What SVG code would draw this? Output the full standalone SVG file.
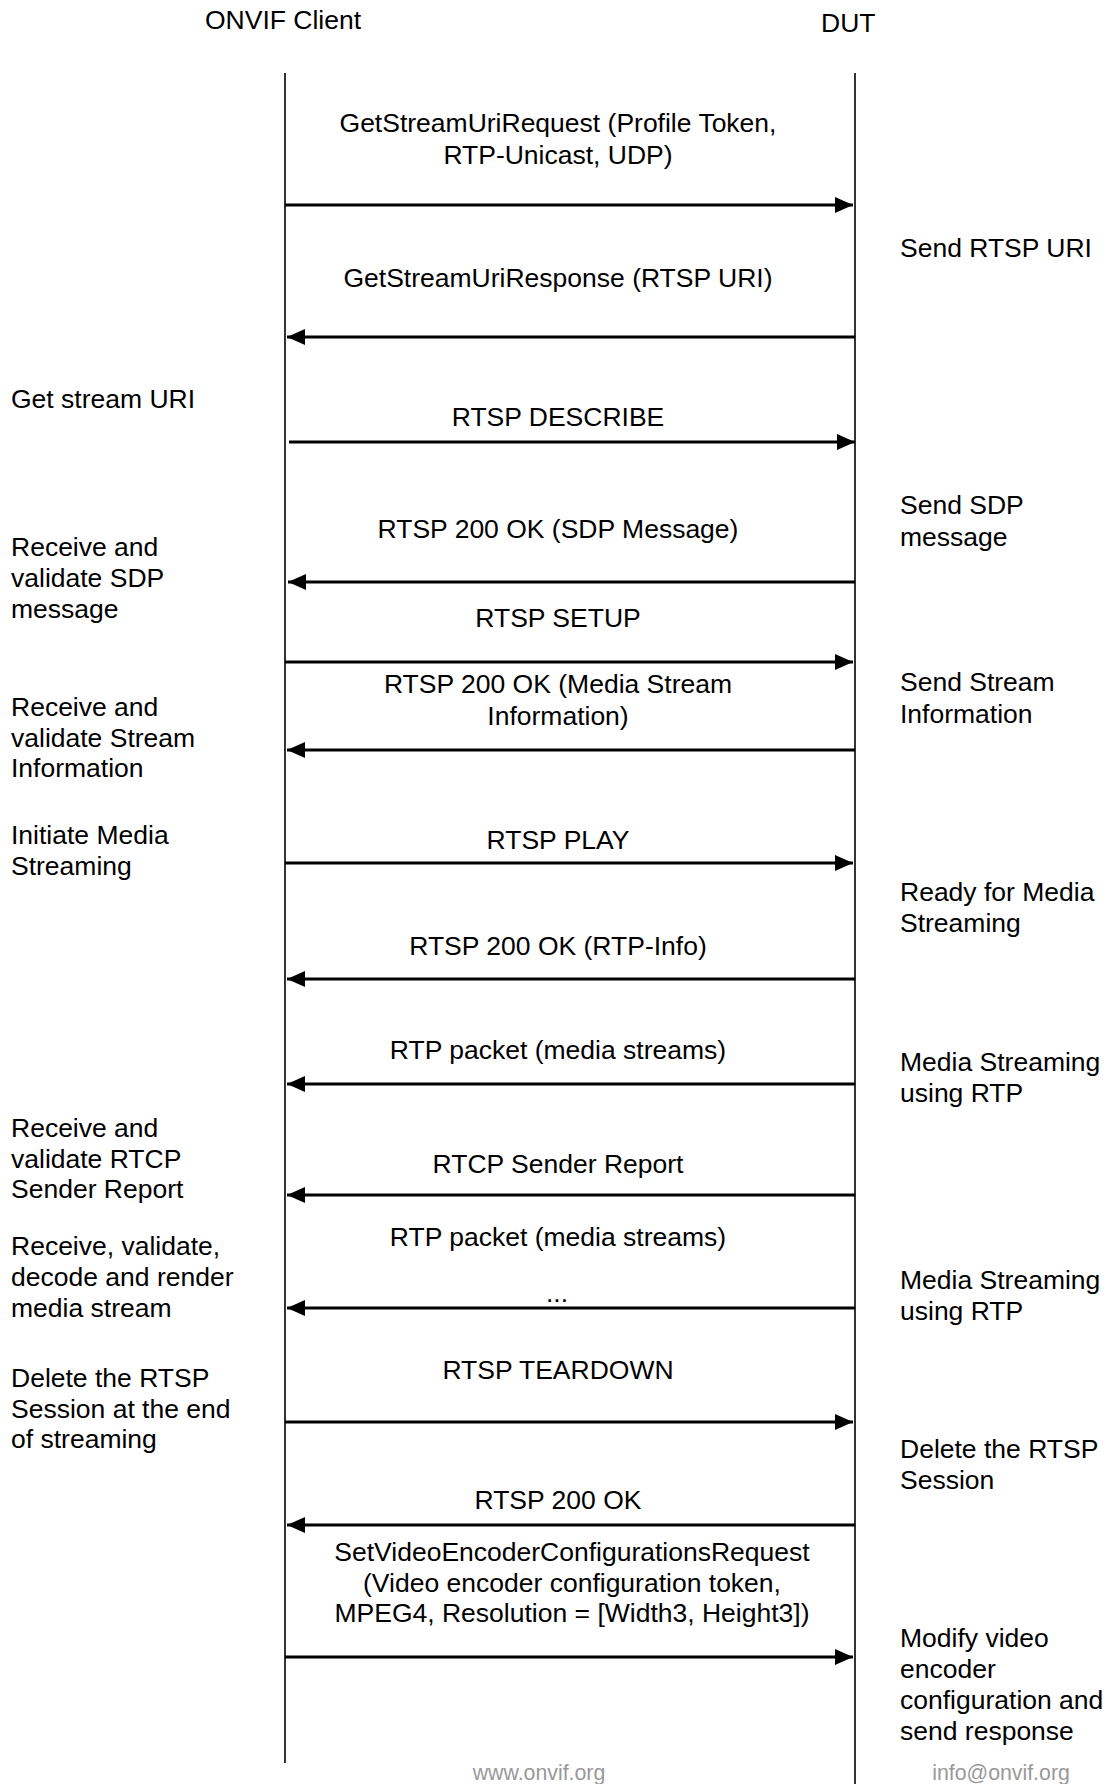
<svg xmlns="http://www.w3.org/2000/svg" width="1110" height="1784" viewBox="0 0 1110 1784">
<style>
text{font-family:"Liberation Sans",Arial,sans-serif;font-size:26.5px;fill:#000}
.c{text-anchor:middle}
.life{stroke:#000;stroke-width:1.6;fill:none}
.msg{stroke:#000;stroke-width:3;fill:none}
.r{marker-end:url(#ah)}
.foot{font-size:21.3px;fill:#999;text-anchor:middle}
</style>
<defs>
<marker id="ah" markerUnits="userSpaceOnUse" markerWidth="20" markerHeight="18" refX="18" refY="8" orient="auto">
<path d="M0,0 L18,8 L0,16 Z" fill="#000"/>
</marker>
</defs>
<rect width="1110" height="1784" fill="#fff"/>
<g id="client">
<text x="205" y="29">ONVIF Client</text>
<line class="life" x1="285" y1="73" x2="285" y2="1763"/>
</g>
<g id="dut">
<text x="821" y="32">DUT</text>
<line class="life" x1="855" y1="73" x2="855" y2="1784"/>
</g>
<g id="connectors">
<g id="m1"><text class="c" x="558" y="132">GetStreamUriRequest (Profile Token,</text><text class="c" x="558" y="163.5">RTP-Unicast, UDP)</text><line class="msg r" x1="285" y1="205" x2="853" y2="205"/></g>
<g id="m2"><text class="c" x="558" y="287">GetStreamUriResponse (RTSP URI)</text><line class="msg r" x1="855" y1="337" x2="287" y2="337"/></g>
<g id="m3"><text class="c" x="558" y="425.5">RTSP DESCRIBE</text><line class="msg r" x1="289" y1="442" x2="855" y2="442"/></g>
<g id="m4"><text class="c" x="558" y="537.5">RTSP 200 OK (SDP Message)</text><line class="msg r" x1="855" y1="582" x2="288" y2="582"/></g>
<g id="m5"><text class="c" x="558" y="626.5">RTSP SETUP</text><line class="msg r" x1="285" y1="662" x2="853" y2="662"/></g>
<g id="m6"><text class="c" x="558" y="693">RTSP 200 OK (Media Stream</text><text class="c" x="558" y="725">Information)</text><line class="msg r" x1="855" y1="750" x2="287" y2="750"/></g>
<g id="m7"><text class="c" x="558" y="848.5">RTSP PLAY</text><line class="msg r" x1="285" y1="863" x2="853" y2="863"/></g>
<g id="m8"><text class="c" x="558" y="955">RTSP 200 OK (RTP-Info)</text><line class="msg r" x1="855" y1="979" x2="287" y2="979"/></g>
<g id="m9"><text class="c" x="558" y="1058.5">RTP packet (media streams)</text><line class="msg r" x1="855" y1="1084" x2="287" y2="1084"/></g>
<g id="m10"><text class="c" x="558" y="1173">RTCP Sender Report</text><line class="msg r" x1="855" y1="1195" x2="287" y2="1195"/></g>
<g id="m11"><text class="c" x="558" y="1245.5">RTP packet (media streams)</text><text class="c" x="557" y="1302">...</text><line class="msg r" x1="855" y1="1308" x2="287" y2="1308"/></g>
<g id="m12"><text class="c" x="558" y="1378.5">RTSP TEARDOWN</text><line class="msg r" x1="285" y1="1422" x2="853" y2="1422"/></g>
<g id="m13"><text class="c" x="558" y="1508.5">RTSP 200 OK</text><line class="msg r" x1="855" y1="1525" x2="287" y2="1525"/></g>
<g id="m14"><text class="c" x="572" y="1561">SetVideoEncoderConfigurationsRequest</text><text class="c" x="572" y="1591.5">(Video encoder configuration token,</text><text class="c" x="572" y="1622">MPEG4, Resolution = [Width3, Height3])</text><line class="msg r" x1="285" y1="1657" x2="853" y2="1657"/></g>
</g>
<g id="client-notes">
<text x="11" y="407.5">Get stream URI</text>
<text x="11" y="556">Receive and</text><text x="11" y="587">validate SDP</text><text x="11" y="618">message</text>
<text x="11" y="716">Receive and</text><text x="11" y="746.5">validate Stream</text><text x="11" y="777">Information</text>
<text x="11" y="844">Initiate Media</text><text x="11" y="875">Streaming</text>
<text x="11" y="1137">Receive and</text><text x="11" y="1167.5">validate RTCP</text><text x="11" y="1198">Sender Report</text>
<text x="11" y="1255">Receive, validate,</text><text x="11" y="1286">decode and render</text><text x="11" y="1317">media stream</text>
<text x="11" y="1387">Delete the RTSP</text><text x="11" y="1417.5">Session at the end</text><text x="11" y="1448">of streaming</text>
</g>
<g id="dut-notes">
<text x="900" y="257">Send RTSP URI</text>
<text x="900" y="514">Send SDP</text><text x="900" y="546">message</text>
<text x="900" y="691">Send Stream</text><text x="900" y="722.5">Information</text>
<text x="900" y="901">Ready for Media</text><text x="900" y="932">Streaming</text>
<text x="900" y="1071">Media Streaming</text><text x="900" y="1101.5">using RTP</text>
<text x="900" y="1289">Media Streaming</text><text x="900" y="1319.5">using RTP</text>
<text x="900" y="1457.5">Delete the RTSP</text><text x="900" y="1489">Session</text>
<text x="900" y="1647">Modify video</text><text x="900" y="1678">encoder</text><text x="900" y="1709">configuration and</text><text x="900" y="1740">send response</text>
</g>
<g id="footer">
<text class="foot" x="539" y="1780">www.onvif.org</text>
<text class="foot" x="1001" y="1780">info@onvif.org</text>
</g>
</svg>
